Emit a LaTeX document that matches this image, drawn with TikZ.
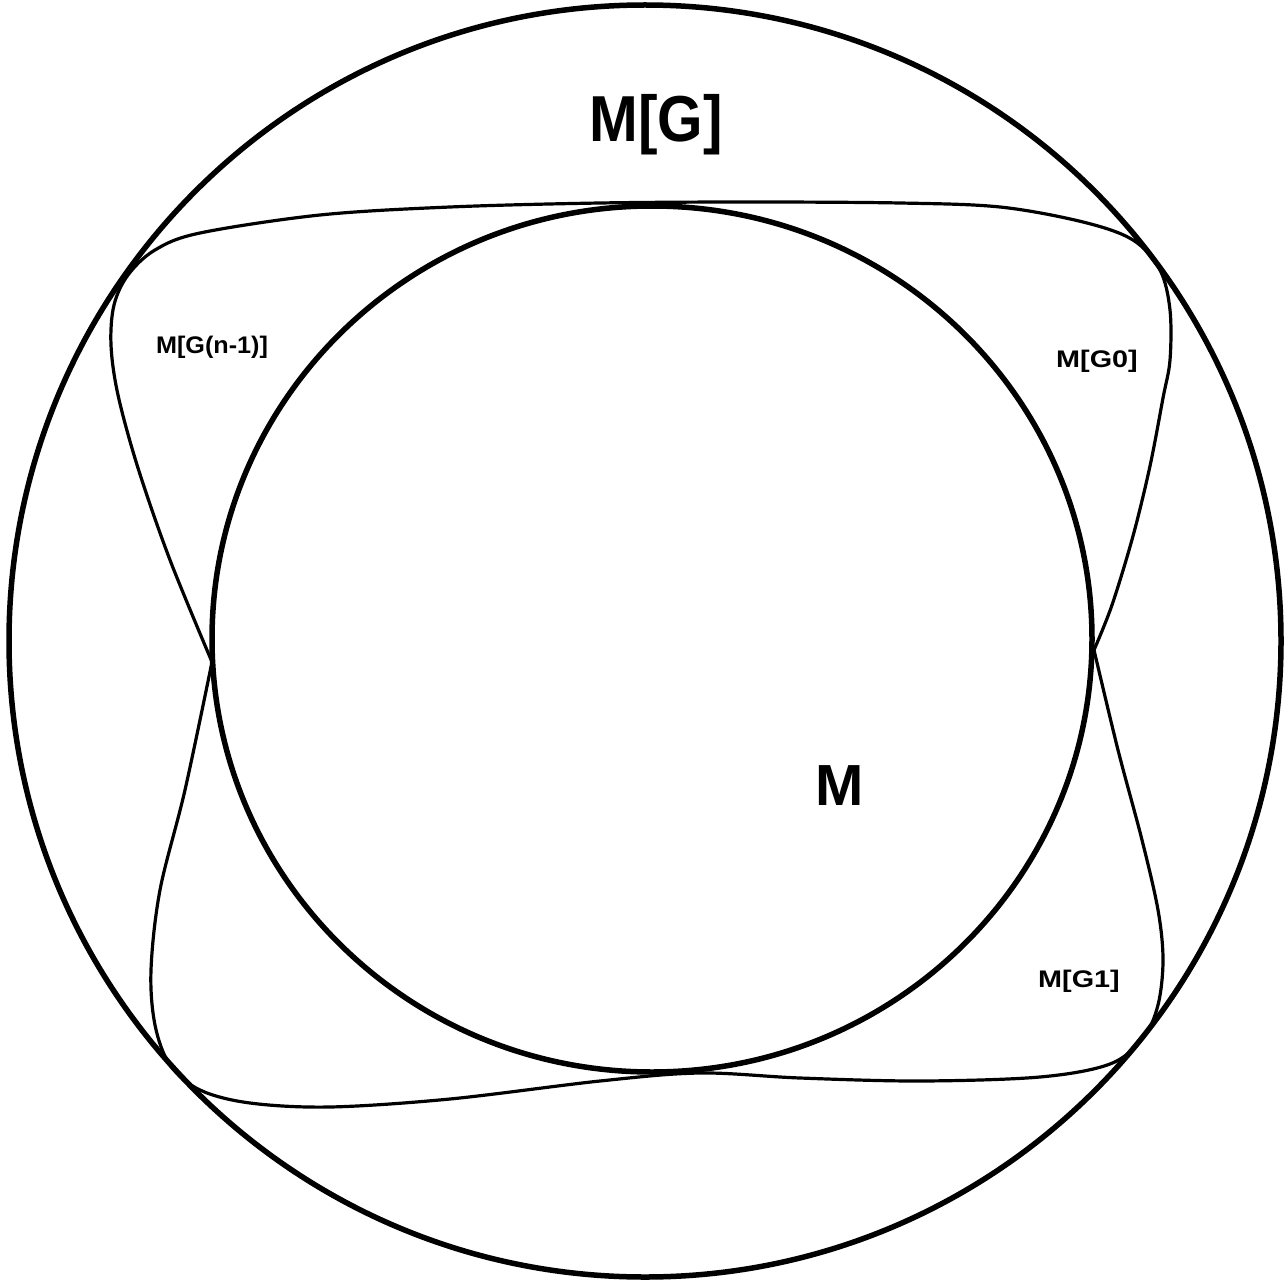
\documentclass[tikz,border=0pt]{standalone}
\usepackage{fontspec}
\setmainfont{Liberation Sans}

\begin{document}
\begin{tikzpicture}[x=1pt,y=-1pt,
   grueso/.style={black,line width=5.5pt},
   fino/.style={black,line width=3.2pt,line join=round},
   grande/.style={anchor=base,font=\bfseries\fontsize{65}{70}\selectfont,xscale=0.9},
   medio/.style={anchor=base,font=\bfseries\fontsize{58}{64}\selectfont},
   chico/.style={anchor=base,font=\bfseries\fontsize{24}{28}\selectfont,xscale=1.2}]

  \useasboundingbox[fill=white] (0,0) rectangle (1287,1281);

  % --- M[G] ---
  \draw[grueso] (645,641) circle[radius=636];

  % --- M ---
  \draw[grueso] (652,639) ellipse[x radius=440,y radius=433];

  % --- mitad superior ---
  \draw[fino] plot[smooth,tension=0.55] coordinates {(212,662) (170,560) (138,468)
    (118,395) (111,345) (114,305) (128,275) (155,250) (200,233) (320,215) (450,207)
    (600,203) (750,202) (900,203) (1000,207) (1083,222) (1133,240) (1160,270) (1170,310)
    (1170,360) (1163,398) (1150,466) (1133,536) (1112,605) (1094,650)};

  % --- mitad inferior ---
  \draw[fino] plot[smooth,tension=0.55] coordinates {(1094,650) (1118,750)
    (1142,840) (1158,910) (1163,960) (1158,1005) (1143,1038) (1110,1064)
    (1040,1077) (920,1081) (800,1078) (700,1073) (600,1081) (450,1099)
    (330,1107) (250,1103) (200,1090) (170,1065) (155,1025) (151,970)
    (160,890) (185,790) (212,662)};

  % --- etiquetas ---
  \node[grande] (mg)   at (656,142) {M[G]};
  \node[medio]  (m)    at (840,805) {M};
  \node[chico,xscale=0.875] (mgn) at (212,353) {M[G(n-1)]};
  \node[chico]  (mg0)  at (1097,367) {M[G0]};
  \node[chico]  (mg1)  at (1079,987) {M[G1]};
\end{tikzpicture}
\end{document}
